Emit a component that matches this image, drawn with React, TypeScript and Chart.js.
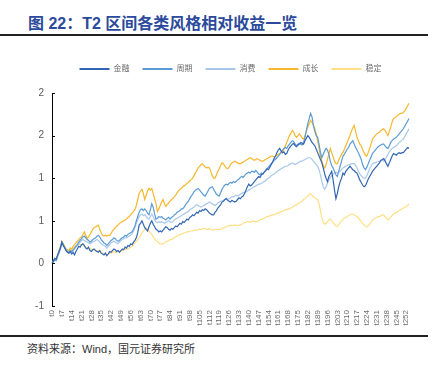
import React, { useEffect, useRef } from "react";
import { Chart, registerables } from "chart.js";

Chart.register(...registerables);

const categories: string[] = Array.from({ length: 255 }, (_, i) => "t" + i);

const seriesNames = ["金融", "周期", "消费", "成长", "稳定"];

const finance = [
  0.00, 0.03, 0.06, 0.05, 0.10, 0.14, 0.18, 0.25, 0.21, 0.18,
  0.15, 0.13, 0.12, 0.14, 0.11, 0.13, 0.10, 0.14, 0.17, 0.20,
  0.19, 0.22, 0.23, 0.21, 0.18, 0.17, 0.19, 0.15, 0.14, 0.16,
  0.17, 0.15, 0.14, 0.13, 0.15, 0.12, 0.11, 0.10, 0.12, 0.09,
  0.11, 0.14, 0.13, 0.15, 0.17, 0.16, 0.14, 0.15, 0.13, 0.15,
  0.17, 0.16, 0.19, 0.18, 0.21, 0.20, 0.23, 0.22, 0.25, 0.27,
  0.30, 0.36, 0.45, 0.47, 0.50, 0.46, 0.42, 0.40, 0.38, 0.43,
  0.47, 0.50, 0.46, 0.43, 0.40, 0.39, 0.37, 0.38, 0.37, 0.39,
  0.41, 0.43, 0.42, 0.40, 0.39, 0.41, 0.40, 0.42, 0.44, 0.43,
  0.45, 0.47, 0.46, 0.49, 0.48, 0.50, 0.52, 0.51, 0.54, 0.55,
  0.57, 0.56, 0.58, 0.60, 0.59, 0.62, 0.61, 0.63, 0.62, 0.64,
  0.63, 0.61, 0.59, 0.58, 0.57, 0.57, 0.60, 0.62, 0.65, 0.67,
  0.69, 0.72, 0.73, 0.75, 0.76, 0.74, 0.73, 0.72, 0.74, 0.73,
  0.72, 0.73, 0.75, 0.77, 0.76, 0.78, 0.79, 0.82, 0.86, 0.90,
  0.93, 0.91, 0.92, 0.94, 0.96, 0.98, 1.00, 1.02, 1.01, 1.04,
  1.05, 1.07, 1.09, 1.11, 1.10, 1.13, 1.16, 1.19, 1.23, 1.26,
  1.30, 1.33, 1.35, 1.32, 1.30, 1.31, 1.28, 1.29, 1.33, 1.36,
  1.38, 1.40, 1.41, 1.38, 1.37, 1.39, 1.40, 1.42, 1.41, 1.40,
  1.44, 1.47, 1.50, 1.48, 1.45, 1.42, 1.40, 1.38, 1.34, 1.30,
  1.26, 1.22, 1.18, 1.12, 1.05, 1.00, 0.96, 1.02, 1.05, 1.08,
  0.98, 0.86, 0.76, 0.82, 0.90, 0.96, 1.00, 1.06, 1.04, 1.08,
  1.10, 1.12, 1.14, 1.12, 1.10, 1.09, 1.07, 1.06, 1.02, 0.98,
  0.95, 0.92, 0.90, 0.91, 0.95, 0.99, 1.02, 1.05, 1.08, 1.10,
  1.12, 1.14, 1.16, 1.18, 1.21, 1.22, 1.23, 1.20, 1.17, 1.14,
  1.18, 1.22, 1.26, 1.29, 1.28, 1.27, 1.29, 1.30, 1.29, 1.30,
  1.30, 1.32, 1.34, 1.36, 1.35,
];

const cyclical = [
  0.00, 0.02, 0.05, 0.04, 0.09, 0.13, 0.18, 0.25, 0.22, 0.19,
  0.16, 0.14, 0.13, 0.15, 0.14, 0.16, 0.18, 0.20, 0.22, 0.25,
  0.27, 0.29, 0.31, 0.32, 0.30, 0.28, 0.27, 0.25, 0.26, 0.28,
  0.29, 0.30, 0.32, 0.33, 0.31, 0.28, 0.26, 0.24, 0.23, 0.21,
  0.23, 0.25, 0.27, 0.28, 0.30, 0.29, 0.27, 0.26, 0.27, 0.29,
  0.30, 0.31, 0.33, 0.32, 0.34, 0.35, 0.36, 0.37, 0.40, 0.44,
  0.50, 0.55, 0.60, 0.63, 0.64, 0.62, 0.64, 0.62, 0.59, 0.57,
  0.63, 0.70, 0.66, 0.58, 0.52, 0.53, 0.55, 0.54, 0.55, 0.53,
  0.52, 0.51, 0.53, 0.54, 0.52, 0.54, 0.55, 0.57, 0.58, 0.60,
  0.61, 0.62, 0.64, 0.64, 0.66, 0.69, 0.71, 0.73, 0.76, 0.79,
  0.81, 0.84, 0.86, 0.87, 0.88, 0.86, 0.84, 0.82, 0.80, 0.79,
  0.82, 0.85, 0.88, 0.89, 0.90, 0.87, 0.84, 0.81, 0.80, 0.79,
  0.83, 0.87, 0.90, 0.92, 0.93, 0.92, 0.94, 0.95, 0.94, 0.96,
  0.95, 0.96, 0.98, 0.99, 1.01, 1.02, 1.01, 1.03, 1.05, 1.06,
  1.07, 1.06, 1.08, 1.08, 1.07, 1.09, 1.07, 1.05, 1.04, 1.06,
  1.05, 1.07, 1.09, 1.11, 1.13, 1.15, 1.17, 1.19, 1.21, 1.22,
  1.24, 1.26, 1.28, 1.31, 1.33, 1.35, 1.36, 1.35, 1.38, 1.40,
  1.42, 1.44, 1.43, 1.40, 1.38, 1.40, 1.41, 1.40, 1.39, 1.42,
  1.48, 1.56, 1.64, 1.70, 1.76, 1.72, 1.62, 1.55, 1.50, 1.48,
  1.40, 1.30, 1.24, 1.28, 1.32, 1.35, 1.33, 1.28, 1.20, 1.15,
  1.12, 1.08, 1.04, 1.02, 1.08, 1.14, 1.20, 1.26, 1.28, 1.31,
  1.34, 1.36, 1.40, 1.42, 1.44, 1.40, 1.36, 1.33, 1.30, 1.26,
  1.22, 1.16, 1.12, 1.10, 1.13, 1.17, 1.21, 1.25, 1.29, 1.31,
  1.33, 1.35, 1.37, 1.38, 1.39, 1.40, 1.40, 1.38, 1.36, 1.35,
  1.38, 1.42, 1.44, 1.46, 1.47, 1.48, 1.50, 1.52, 1.54, 1.56,
  1.58, 1.61, 1.64, 1.67, 1.70,
];

const consumer = [
  0.00, 0.01, 0.04, 0.03, 0.08, 0.12, 0.17, 0.24, 0.21, 0.18,
  0.15, 0.13, 0.12, 0.14, 0.13, 0.15, 0.17, 0.19, 0.21, 0.23,
  0.25, 0.27, 0.28, 0.27, 0.26, 0.25, 0.24, 0.23, 0.24, 0.25,
  0.26, 0.27, 0.28, 0.27, 0.25, 0.23, 0.22, 0.21, 0.20, 0.18,
  0.20, 0.22, 0.24, 0.25, 0.26, 0.25, 0.24, 0.23, 0.25, 0.27,
  0.28, 0.29, 0.30, 0.30, 0.31, 0.32, 0.33, 0.35, 0.38, 0.42,
  0.47, 0.51, 0.55, 0.57, 0.58, 0.56, 0.57, 0.55, 0.53, 0.52,
  0.55, 0.58, 0.55, 0.51, 0.49, 0.48, 0.49, 0.48, 0.49, 0.48,
  0.47, 0.48, 0.49, 0.50, 0.49, 0.48, 0.49, 0.51, 0.52, 0.53,
  0.54, 0.55, 0.56, 0.57, 0.58, 0.59, 0.60, 0.61, 0.63, 0.64,
  0.65, 0.66, 0.68, 0.69, 0.68, 0.67, 0.66, 0.67, 0.68, 0.69,
  0.70, 0.71, 0.72, 0.71, 0.70, 0.69, 0.68, 0.69, 0.71, 0.72,
  0.73, 0.73, 0.74, 0.75, 0.76, 0.75, 0.76, 0.77, 0.78, 0.78,
  0.79, 0.80, 0.79, 0.80, 0.81, 0.82, 0.83, 0.83, 0.84, 0.85,
  0.86, 0.87, 0.88, 0.89, 0.90, 0.91, 0.92, 0.93, 0.93, 0.94,
  0.95, 0.96, 0.97, 0.99, 1.00, 1.01, 1.03, 1.04, 1.05, 1.06,
  1.08, 1.09, 1.10, 1.11, 1.12, 1.13, 1.14, 1.14, 1.15, 1.16,
  1.17, 1.18, 1.17, 1.16, 1.17, 1.18, 1.19, 1.20, 1.20, 1.21,
  1.22, 1.23, 1.24, 1.24, 1.24, 1.22, 1.20, 1.18, 1.16, 1.14,
  1.10, 1.04, 0.96, 0.90, 0.87, 0.90, 0.94, 0.98, 1.01, 1.03,
  1.05, 1.06, 1.07, 1.06, 1.07, 1.08, 1.10, 1.12, 1.13, 1.14,
  1.15, 1.16, 1.16, 1.17, 1.17, 1.17, 1.15, 1.12, 1.08, 1.05,
  1.03, 1.01, 1.00, 1.00, 1.03, 1.07, 1.11, 1.14, 1.17, 1.18,
  1.18, 1.19, 1.19, 1.20, 1.20, 1.21, 1.20, 1.22, 1.25, 1.28,
  1.31, 1.33, 1.35, 1.36, 1.37, 1.38, 1.40, 1.42, 1.43, 1.45,
  1.46, 1.49, 1.52, 1.55, 1.58,
];

const growth = [
  0.00, 0.03, 0.06, 0.05, 0.10, 0.15, 0.20, 0.26, 0.23, 0.20,
  0.17, 0.16, 0.15, 0.18, 0.17, 0.20, 0.22, 0.24, 0.26, 0.28,
  0.30, 0.31, 0.34, 0.37, 0.33, 0.29, 0.31, 0.34, 0.37, 0.40,
  0.42, 0.43, 0.44, 0.45, 0.40, 0.36, 0.33, 0.32, 0.33, 0.32,
  0.33, 0.33, 0.35, 0.38, 0.40, 0.42, 0.44, 0.45, 0.47, 0.48,
  0.49, 0.50, 0.51, 0.52, 0.54, 0.55, 0.57, 0.59, 0.61, 0.63,
  0.68, 0.75, 0.82, 0.85, 0.87, 0.82, 0.75, 0.80, 0.85, 0.88,
  0.86, 0.88, 0.82, 0.76, 0.70, 0.61, 0.64, 0.68, 0.72, 0.75,
  0.70, 0.67, 0.69, 0.71, 0.73, 0.75, 0.76, 0.78, 0.80, 0.83,
  0.85, 0.87, 0.88, 0.90, 0.91, 0.92, 0.94, 0.95, 0.97, 0.98,
  1.00, 1.03, 1.06, 1.09, 1.12, 1.14, 1.16, 1.17, 1.15, 1.13,
  1.12, 1.13, 1.12, 1.08, 1.03, 1.00, 1.00, 1.04, 1.08, 1.11,
  1.15, 1.18, 1.17, 1.14, 1.12, 1.11, 1.13, 1.16, 1.18, 1.19,
  1.20, 1.19, 1.18, 1.17, 1.17, 1.18, 1.19, 1.20, 1.21, 1.22,
  1.23, 1.24, 1.23, 1.22, 1.21, 1.22, 1.23, 1.22, 1.21, 1.20,
  1.20, 1.21, 1.22, 1.23, 1.24, 1.25, 1.26, 1.26, 1.25, 1.26,
  1.27, 1.28, 1.29, 1.30, 1.30, 1.34, 1.38, 1.42, 1.46, 1.50,
  1.53, 1.56, 1.54, 1.50, 1.48, 1.50, 1.52, 1.50, 1.47, 1.46,
  1.50, 1.55, 1.60, 1.64, 1.68, 1.65, 1.62, 1.58, 1.52, 1.44,
  1.35, 1.26, 1.20, 1.15, 1.12, 1.16, 1.22, 1.28, 1.35, 1.30,
  1.25, 1.20, 1.17, 1.17, 1.21, 1.25, 1.28, 1.30, 1.34, 1.38,
  1.42, 1.46, 1.50, 1.55, 1.59, 1.62, 1.55, 1.48, 1.44, 1.40,
  1.38, 1.34, 1.30, 1.27, 1.26, 1.30, 1.35, 1.40, 1.46, 1.48,
  1.50, 1.52, 1.53, 1.54, 1.56, 1.57, 1.58, 1.56, 1.53, 1.50,
  1.55, 1.60, 1.66, 1.70, 1.71, 1.72, 1.74, 1.75, 1.76, 1.76,
  1.77, 1.79, 1.82, 1.85, 1.88,
];

const stable = [
  0.00, 0.02, 0.05, 0.04, 0.09, 0.13, 0.18, 0.25, 0.22, 0.19,
  0.16, 0.15, 0.15, 0.17, 0.16, 0.18, 0.19, 0.21, 0.22, 0.23,
  0.22, 0.21, 0.21, 0.20, 0.19, 0.18, 0.18, 0.17, 0.17, 0.16,
  0.16, 0.15, 0.15, 0.15, 0.14, 0.13, 0.12, 0.11, 0.11, 0.10,
  0.11, 0.12, 0.12, 0.13, 0.14, 0.13, 0.13, 0.14, 0.14, 0.15,
  0.15, 0.16, 0.16, 0.17, 0.17, 0.18, 0.19, 0.20, 0.22, 0.24,
  0.26, 0.28, 0.30, 0.33, 0.36, 0.38, 0.40, 0.42, 0.40, 0.38,
  0.36, 0.34, 0.31, 0.29, 0.27, 0.25, 0.24, 0.23, 0.23, 0.23,
  0.24, 0.25, 0.26, 0.27, 0.28, 0.28, 0.29, 0.30, 0.31, 0.32,
  0.33, 0.34, 0.34, 0.35, 0.36, 0.36, 0.37, 0.37, 0.38, 0.38,
  0.38, 0.39, 0.39, 0.39, 0.40, 0.40, 0.40, 0.40, 0.41, 0.41,
  0.40, 0.40, 0.41, 0.40, 0.39, 0.39, 0.40, 0.40, 0.40, 0.40,
  0.40, 0.41, 0.42, 0.42, 0.43, 0.44, 0.44, 0.45, 0.44, 0.45,
  0.45, 0.45, 0.44, 0.45, 0.45, 0.46, 0.47, 0.48, 0.48, 0.49,
  0.49, 0.48, 0.49, 0.50, 0.49, 0.49, 0.49, 0.50, 0.51, 0.52,
  0.52, 0.53, 0.54, 0.55, 0.55, 0.56, 0.56, 0.57, 0.57, 0.58,
  0.59, 0.59, 0.60, 0.61, 0.61, 0.62, 0.63, 0.63, 0.64, 0.64,
  0.65, 0.66, 0.67, 0.68, 0.69, 0.70, 0.71, 0.72, 0.73, 0.75,
  0.76, 0.78, 0.79, 0.81, 0.82, 0.80, 0.78, 0.77, 0.76, 0.75,
  0.70, 0.62, 0.54, 0.48, 0.46, 0.47, 0.49, 0.51, 0.52, 0.50,
  0.48, 0.46, 0.44, 0.43, 0.45, 0.48, 0.50, 0.52, 0.53, 0.54,
  0.55, 0.56, 0.57, 0.58, 0.58, 0.57, 0.56, 0.55, 0.53, 0.51,
  0.49, 0.47, 0.45, 0.44, 0.43, 0.44, 0.46, 0.48, 0.51, 0.52,
  0.53, 0.54, 0.55, 0.55, 0.56, 0.57, 0.57, 0.55, 0.53, 0.51,
  0.52, 0.54, 0.56, 0.58, 0.59, 0.60, 0.61, 0.62, 0.63, 0.64,
  0.65, 0.66, 0.67, 0.68, 0.70,
];

const seriesColors = ["#3366B2", "#5B9BD5", "#A8C8EA", "#F5B82E", "#FFDF85"];
const labelEvery = 7;

const FONT = '"Liberation Sans", Arial, "Noto Sans CJK SC", sans-serif';

const innerTicks = {
  id: "innerTicks",
  afterDraw(chart: any) {
    const y = chart.scales.y;
    const ctx = chart.ctx;
    ctx.save();
    ctx.strokeStyle = "#000";
    ctx.lineWidth = 1;
    y.ticks.forEach((t: any) => {
      const py = Math.round(y.getPixelForValue(t.value)) + 0.5;
      ctx.beginPath();
      ctx.moveTo(y.right, py);
      ctx.lineTo(y.right + 3, py);
      ctx.stroke();
    });
    ctx.restore();
  },
};

export default function App() {
  const ref = useRef<HTMLCanvasElement | null>(null);

  useEffect(() => {
    if (!ref.current) return;
    Chart.defaults.font.family = FONT;
    const all = [finance, cyclical, consumer, growth, stable];
    const chart = new Chart(ref.current, {
      type: "line",
      data: {
        labels: categories,
        datasets: all.map((d, i) => ({
          label: seriesNames[i],
          data: d,
          borderColor: seriesColors[i],
          backgroundColor: seriesColors[i],
          borderWidth: 1.2,
          pointRadius: 0,
          tension: 0,
          fill: false,
        })),
      },
      options: {
        animation: false,
        responsive: true,
        maintainAspectRatio: false,
        layout: { padding: { top: 12, right: 28, left: 0, bottom: 0 } },
        plugins: {
          legend: {
            display: true,
            position: "top",
            fullSize: false,
            labels: {
              usePointStyle: true,
              pointStyle: "line",
              pointStyleWidth: 30,
              padding: 13,
              color: "#6b6b6b",
              font: { size: 8, family: FONT },
              generateLabels: (c: any) =>
                Chart.defaults.plugins.legend.labels
                  .generateLabels(c)
                  .map((l: any) => ({ ...l, lineWidth: 2, pointStyle: "line" })),
            },
          },
          title: {
            display: true,
            text: "",
            weight: 500,
            padding: 0,
            font: { size: 10, lineHeight: 1 },
          },
          tooltip: { enabled: false },
        },
        scales: {
          x: {
            type: "category",
            grid: { display: false, drawTicks: false },
            border: { display: false },
            ticks: {
              autoSkip: false,
              maxRotation: 90,
              minRotation: 90,
              padding: 4,
              color: "#6b6b6b",
              font: { size: 8, family: FONT },
              callback: (_v: any, i: number) =>
                i % labelEvery === 0 ? categories[i] : null,
            },
            afterFit: (s: any) => {
              s.height = 29;
            },
          },
          y: {
            min: -0.5,
            max: 2,
            grid: { display: false, drawTicks: false },
            border: { display: true, color: "#000", width: 1 },
            ticks: {
              stepSize: 0.5,
              padding: 8,
              color: "#595959",
              font: { size: 10, family: FONT },
              callback: (v: any) => {
                const n = Number(v);
                const r = Math.sign(n) * Math.round(Math.abs(n));
                return String(r === 0 ? 0 : r);
              },
            },
            afterFit: (s: any) => {
              s.width = 52;
            },
          },
        },
      },
      plugins: [innerTicks],
    } as any);
    return () => chart.destroy();
  }, []);

  return (
    <div style={{ position: "relative", width: 437, height: 367, fontFamily: FONT, background: "#fff" }}>
      <style>{"body{margin:0}"}</style>
      <div
        style={{
          position: "absolute",
          left: 28,
          top: 14,
          fontSize: 16,
          lineHeight: "20px",
          fontWeight: "bold",
          color: "#2B4A9C",
          whiteSpace: "nowrap",
        }}
      >
        图 22：T2 区间各类风格相对收益一览
      </div>
      <div style={{ position: "absolute", left: 0, top: 34, width: 428, height: 2, background: "#222" }} />
      <div style={{ position: "absolute", left: 0, top: 40, width: 437, height: 295 }}>
        <canvas ref={ref} />
      </div>
      <div style={{ position: "absolute", left: 0, top: 335, width: 428, height: 2, background: "#222" }} />
      <div
        style={{
          position: "absolute",
          left: 27,
          top: 342,
          fontSize: 11,
          lineHeight: "14px",
          color: "#333",
          whiteSpace: "nowrap",
        }}
      >
        资料来源：Wind，国元证券研究所
      </div>
    </div>
  );
}
